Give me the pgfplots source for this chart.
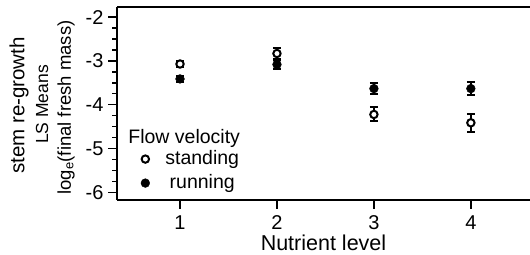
\documentclass[border=0pt]{standalone}
\usepackage{fontspec}
\setmainfont{Liberation Sans}
\usepackage{pgfplots}
\pgfplotsset{compat=1.18}
\begin{document}
\begin{tikzpicture}
\begin{axis}[
  scale only axis, width=413pt, height=193pt,
  xmin=0.35, xmax=4.61, ymin=-6.17, ymax=-1.77,
  axis x line=box, axis y line=left,
  axis line style={-, line width=2.2pt, black},
  xtick={1,2,3,4}, ytick={-6,-5,-4,-3,-2}, minor y tick num=3,
  xtick pos=left,
  tick align=outside, major tick length=9pt, minor tick length=5pt,
  tick style={black, line width=1.3pt},
  /pgf/number format/assume math mode=true,
  ticklabel style={font=\fontsize{20}{22}\selectfont},
  xticklabel style={anchor=base, yshift=-21pt, inner sep=1pt},
  yticklabel style={xshift=-1pt},
  xlabel={Nutrient level},
  xlabel style={font=\fontsize{21.5}{23}\selectfont, at={(axis description cs:0.5,0)}, anchor=base, yshift=-51pt, inner sep=1pt},
  legend style={at={(rel axis cs:0.027,0.27)}, anchor=north west, draw=none, fill=none,
    font=\fontsize{19.5}{21}\selectfont, row sep=6pt,
    nodes={inner ysep=0pt, text height=14pt, text depth=4pt}},
  legend image code/.code={\path[draw=none, fill=none] (-14pt,-4pt) rectangle (18pt,4pt); \draw[#1] plot coordinates {(0pt,0pt)};},
  reverse legend,
]
\addplot+[only marks, mark=*, black, mark size=4.4pt, mark options={fill=black, draw=black},
  error bars/.cd, y dir=both, y explicit,
  error bar style={line width=2pt, black},
  error mark options={rotate=90, mark size=4pt, line width=2pt, black}]
  table[x=x, y=y, y error=e] {
x y e
1 -3.41 0.06
2 -3.08 0.10
3 -3.63 0.12
4 -3.63 0.15
};
\addlegendentry{running}
\addplot+[only marks, mark=*, black, mark size=3.7pt, mark options={fill=white, draw=black, line width=2pt},
  error bars/.cd, y dir=both, y explicit,
  error bar style={line width=2pt, black},
  error mark options={rotate=90, mark size=4pt, line width=2pt, black}]
  table[x=x, y=y, y error=e] {
x y e
1 -3.07 0.07
2 -2.83 0.12
3 -4.22 0.16
4 -4.41 0.20
};
\addlegendentry{standing}
\node[anchor=base west, font=\fontsize{19.5}{21}\selectfont, inner sep=0pt] at (rel axis cs:0.027,0.295) {Flow velocity};
\end{axis}
\node[rotate=90, anchor=center, font=\fontsize{20.5}{22}\selectfont, inner sep=0pt] at ([xshift=-98pt, yshift=-2pt]current axis.west) {stem re-growth};
\node[rotate=90, anchor=center, font=\fontsize{17.5}{19}\selectfont, inner sep=0pt] at ([xshift=-75pt, yshift=-1pt]current axis.west) {LS Means};
\node[rotate=90, anchor=center, font=\fontsize{18.5}{20}\selectfont, inner sep=0pt] at ([xshift=-51pt, yshift=-4pt]current axis.west) {log\textsubscript{e}(final fresh mass)};
\path (current axis.south west) ++(-117pt,-55pt) coordinate (bl);
\path (current axis.north east) ++(0pt,7pt) coordinate (tr);
\pgfresetboundingbox
\useasboundingbox (bl) rectangle (tr);
\end{tikzpicture}
\end{document}
